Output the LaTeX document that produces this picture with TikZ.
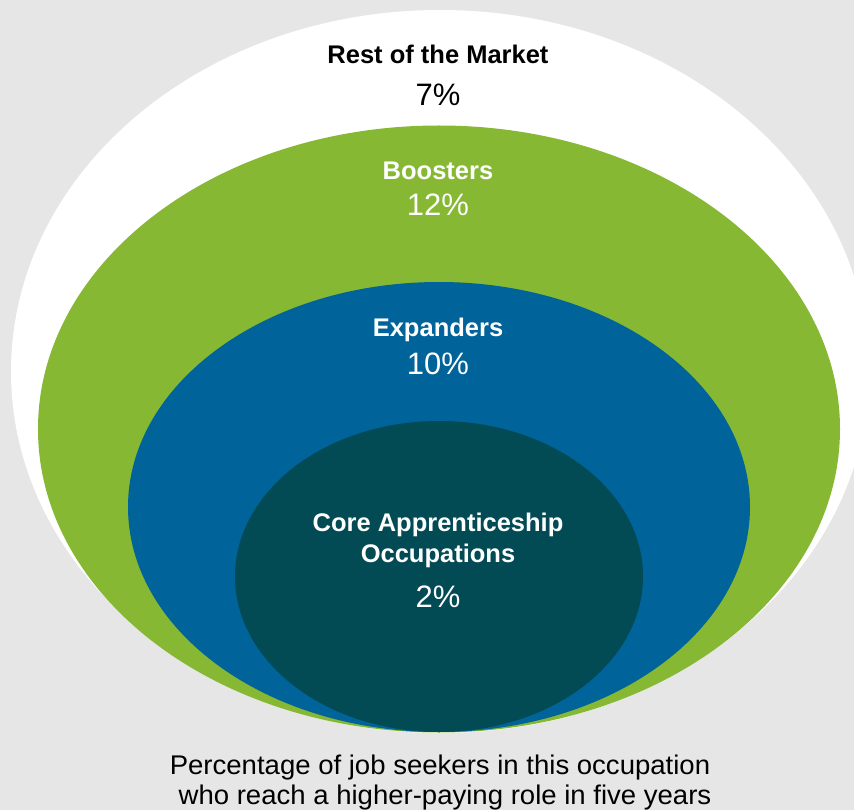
\documentclass[tikz,border=0pt]{standalone}
\usepackage{fontspec}
\setmainfont{Liberation Sans}
\newfontfamily\capfont[FakeStretch=1.02]{Liberation Sans}
\definecolor{bgc}{RGB}{230,230,230}
\definecolor{boostc}{RGB}{134,184,52}
\definecolor{expc}{RGB}{0,99,153}
\definecolor{corec}{RGB}{2,75,85}
\tikzset{
  lbl/.style={anchor=base, inner sep=0pt, font=\fontsize{25.5}{28}\selectfont\bfseries},
  pct/.style={anchor=base, inner sep=0pt, font=\fontsize{31}{34}\selectfont},
  captext/.style={anchor=base, inner sep=0pt, font=\fontsize{27}{30}\selectfont\capfont},
}
\begin{document}
\begin{tikzpicture}[x=1pt,y=-1pt]
\fill[bgc] (0,0) rectangle (854,810);
\useasboundingbox (0,0) rectangle (854,810);
\fill[white] (440,371.5) ellipse [x radius=429, y radius=361.5];
\fill[boostc] (439,429) ellipse [x radius=401, y radius=303.5];
\fill[expc] (439,507) ellipse [x radius=311, y radius=225];
\fill[corec] (439,576.5) ellipse [x radius=204, y radius=155.5];
\node[lbl, text=black] (restl) at (438,64) {Rest of the Market};
\node[pct, text=black] (restp) at (438,106) {7\%};
\node[lbl, text=white] (boostl) at (438,180) {Boosters};
\node[pct, text=white] (boostp) at (438,216) {12\%};
\node[lbl, text=white] (expl) at (438,337) {Expanders};
\node[pct, text=white] (expp) at (438,374) {10\%};
\node[lbl, text=white] (corel1) at (438,531) {Core Apprenticeship};
\node[lbl, text=white] (corel2) at (438,562) {Occupations};
\node[pct, text=white] (corep) at (438,607) {2\%};
\node[captext, text=black] (cap1) at (440,774) {Percentage of job seekers in this occupation};
\node[captext, text=black] (cap2) at (445,804) {who reach a higher-paying role in five years};
\end{tikzpicture}
\end{document}
